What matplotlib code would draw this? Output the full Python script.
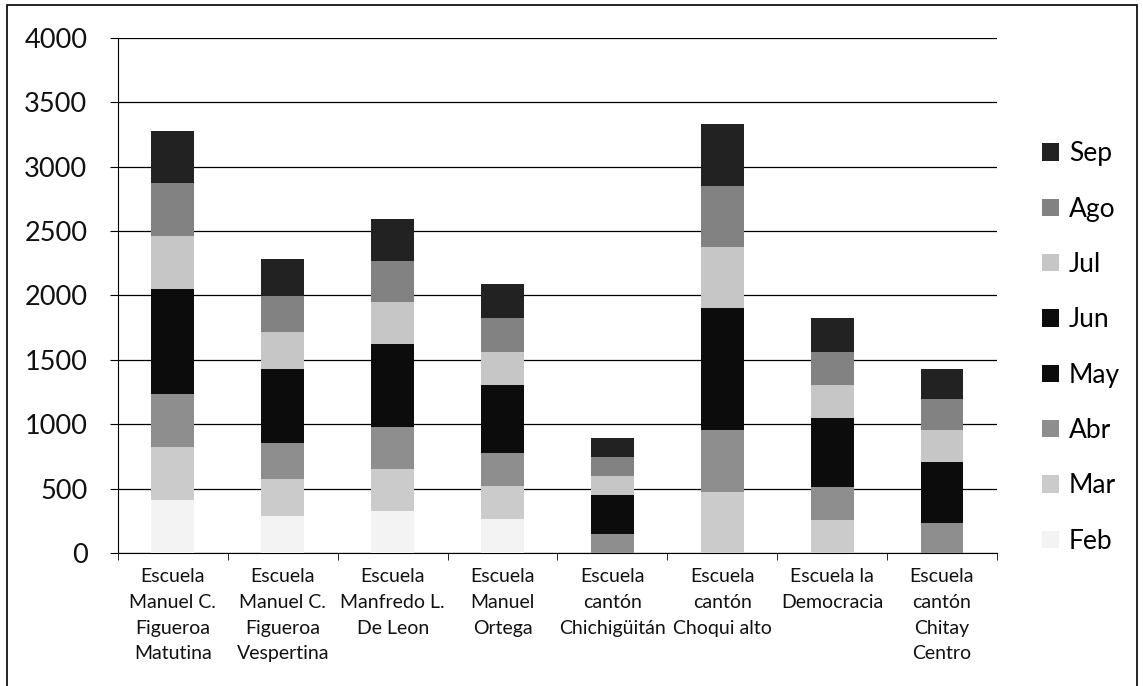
import matplotlib.pyplot as plt
import numpy as np
from matplotlib.patches import Rectangle

plt.rcParams['font.family'] = ['Lato', 'DejaVu Sans']

schools = [
    "Escuela\nManuel C.\nFigueroa\nMatutina",
    "Escuela\nManuel C.\nFigueroa\nVespertina",
    "Escuela\nManfredo L.\nDe Leon",
    "Escuela\nManuel\nOrtega",
    "Escuela\ncantón\nChichigüitán",
    "Escuela\ncantón\nChoqui alto",
    "Escuela la\nDemocracia",
    "Escuela\ncantón\nChitay\nCentro",
]
months = ["Feb", "Mar", "Abr", "May", "Jun", "Jul", "Ago", "Sep"]

feb = [415, 285, 327, 261, 0, 0, 0, 0]
mar = [408, 287, 325, 259, 0, 476, 256, 0]
abr = [409, 285, 326, 259, 147, 476, 256, 235]
may = [408, 285, 323, 262, 150, 476, 268, 237]
jun = [408, 286, 322, 263, 150, 476, 268, 237]
jul = [411, 286, 324, 259, 150, 476, 256, 248]
ago = [411, 284, 323, 260, 148, 474, 257, 241]
sep = [407, 285, 328, 263, 145, 479, 263, 232]
series = [feb, mar, abr, may, jun, jul, ago, sep]

colors = ["#f3f3f3", "#cbcbcb", "#8e8e8e", "#0c0c0c", "#0c0c0c", "#c6c6c6", "#828282", "#222222"]

fig = plt.figure(figsize=(11.43, 6.86), dpi=100)
ax = fig.add_axes([0.1032, 0.1939, 0.7690, 0.7507])

x = np.arange(len(schools))
bottom = np.zeros(len(schools))
for name, vals, col in zip(months, series, colors):
    ax.bar(x, vals, width=0.39, bottom=bottom, color=col, label=name, zorder=3)
    bottom += np.array(vals)

ax.set_xlim(-0.5, len(schools) - 0.5)
ax.set_ylim(0, 4000)
ax.set_yticks(np.arange(0, 4001, 500))
ax.yaxis.grid(True, color="black", linewidth=0.9, zorder=0)
ax.set_axisbelow(True)

ax.set_xticks(x)
ax.set_xticklabels(schools, fontsize=14, linespacing=1.62, color="#111111")
ax.tick_params(axis="x", length=0, pad=11)
ax.set_xticks(np.arange(-0.5, len(schools)), minor=True)
ax.tick_params(axis="x", which="minor", length=5, color="black")
ax.tick_params(axis="y", labelsize=19.5, length=6, color="black", pad=16, labelcolor="#111111")

for s in ["top", "right"]:
    ax.spines[s].set_visible(False)
ax.spines["left"].set_color("black")
ax.spines["bottom"].set_color("black")

handles, labels = ax.get_legend_handles_labels()
leg = ax.legend(handles[::-1], labels[::-1], loc="center left", bbox_to_anchor=(1.024, 0.399),
                frameon=False, fontsize=19, labelspacing=1.15, handlelength=0.64,
                handleheight=0.64, handletextpad=0.38, borderpad=0.4)

fig.patches.append(Rectangle((7 / 1143, -0.05), (1137 - 7) / 1143, 1.05 - 5 / 686,
                             transform=fig.transFigure, fill=False,
                             edgecolor="black", linewidth=1.2))

fig.savefig("out.png", dpi=100)
